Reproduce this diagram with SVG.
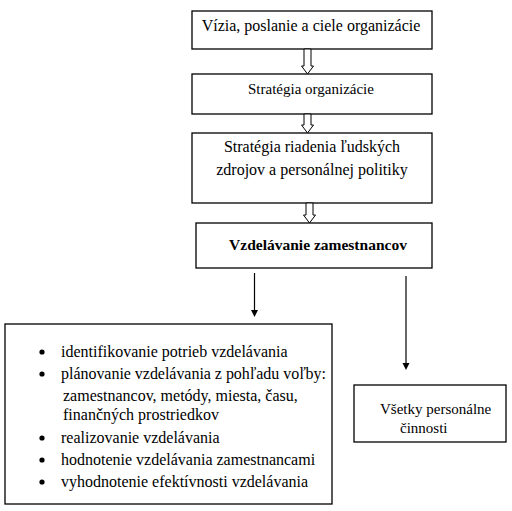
<svg xmlns="http://www.w3.org/2000/svg" width="512" height="511" viewBox="0 0 512 511">
<defs>
<path id="hollowArrow" d="M-3.5,0 L3.5,0 L3.5,17 L6,17 L0,25 L-6,17 L-3.5,17 Z"/>
</defs>
<rect width="512" height="511" fill="#fff"/>
<g fill="#000" font-family="Liberation Serif" font-size="16">
<g id="n1">
<rect x="192" y="11" width="240" height="38" fill="#fff" stroke="#000" stroke-width="1.3"/>
<text x="311" y="31" text-anchor="middle">Vízia, poslanie a ciele organizácie</text>
</g>
<g id="n2">
<rect x="192" y="74" width="240" height="40" fill="#fff" stroke="#000" stroke-width="1.3"/>
<text x="311" y="94" text-anchor="middle" font-size="15">Stratégia organizácie</text>
</g>
<g id="n3">
<rect x="192" y="133" width="240" height="70" fill="#fff" stroke="#000" stroke-width="1.3"/>
<text x="312" y="152" text-anchor="middle">Stratégia riadenia ľudských</text>
<text x="312" y="175" text-anchor="middle">zdrojov a personálnej politiky</text>
</g>
<g id="n4">
<rect x="196" y="223" width="236" height="45" fill="#fff" stroke="#000" stroke-width="1.3"/>
<text x="318" y="250" text-anchor="middle" font-size="15.5" font-weight="bold">Vzdelávanie zamestnancov</text>
</g>
<g id="n5">
<rect x="5" y="324" width="327" height="180" fill="#fff" stroke="#000" stroke-width="1.3"/>
<circle cx="42" cy="352" r="2.6"/>
<circle cx="42" cy="374" r="2.6"/>
<circle cx="42" cy="438" r="2.6"/>
<circle cx="42" cy="460" r="2.6"/>
<circle cx="42" cy="482" r="2.6"/>
<text x="61" y="357">identifikovanie potrieb vzdelávania</text>
<text x="61" y="379" textLength="265">plánovanie vzdelávania z pohľadu voľby:</text>
<text x="63" y="401">zamestnancov, metódy, miesta, času,</text>
<text x="63" y="420">finančných prostriedkov</text>
<text x="61" y="443">realizovanie vzdelávania</text>
<text x="61" y="465">hodnotenie vzdelávania zamestnancami</text>
<text x="61" y="487">vyhodnotenie efektívnosti vzdelávania</text>
</g>
<g id="n6">
<rect x="354" y="385" width="152" height="57" fill="#fff" stroke="#000" stroke-width="1.3"/>
<text x="380" y="414" font-size="15">Všetky personálne</text>
<text x="400" y="433" font-size="15">činnosti</text>
</g>
</g>
<g id="connectors">
<g fill="#fff" stroke="#000" stroke-width="1">
<use href="#hollowArrow" x="307.5" y="49"/>
<path d="M304,114 L311,114 L311,125 L313.5,125 L307.5,133 L301.5,125 L304,125 Z"/>
<path d="M306,203 L313,203 L313,215 L315.5,215 L309.5,223 L303.5,215 L306,215 Z"/>
</g>
<g stroke="#000" stroke-width="1.2">
<line x1="254.5" y1="273" x2="254.5" y2="310"/>
<line x1="406" y1="276" x2="406" y2="363"/>
</g>
<g fill="#000">
<path d="M251,310 L258,310 L254.5,317 Z"/>
<path d="M402.5,363 L409.5,363 L406,370 Z"/>
</g>
</g>
</svg>
